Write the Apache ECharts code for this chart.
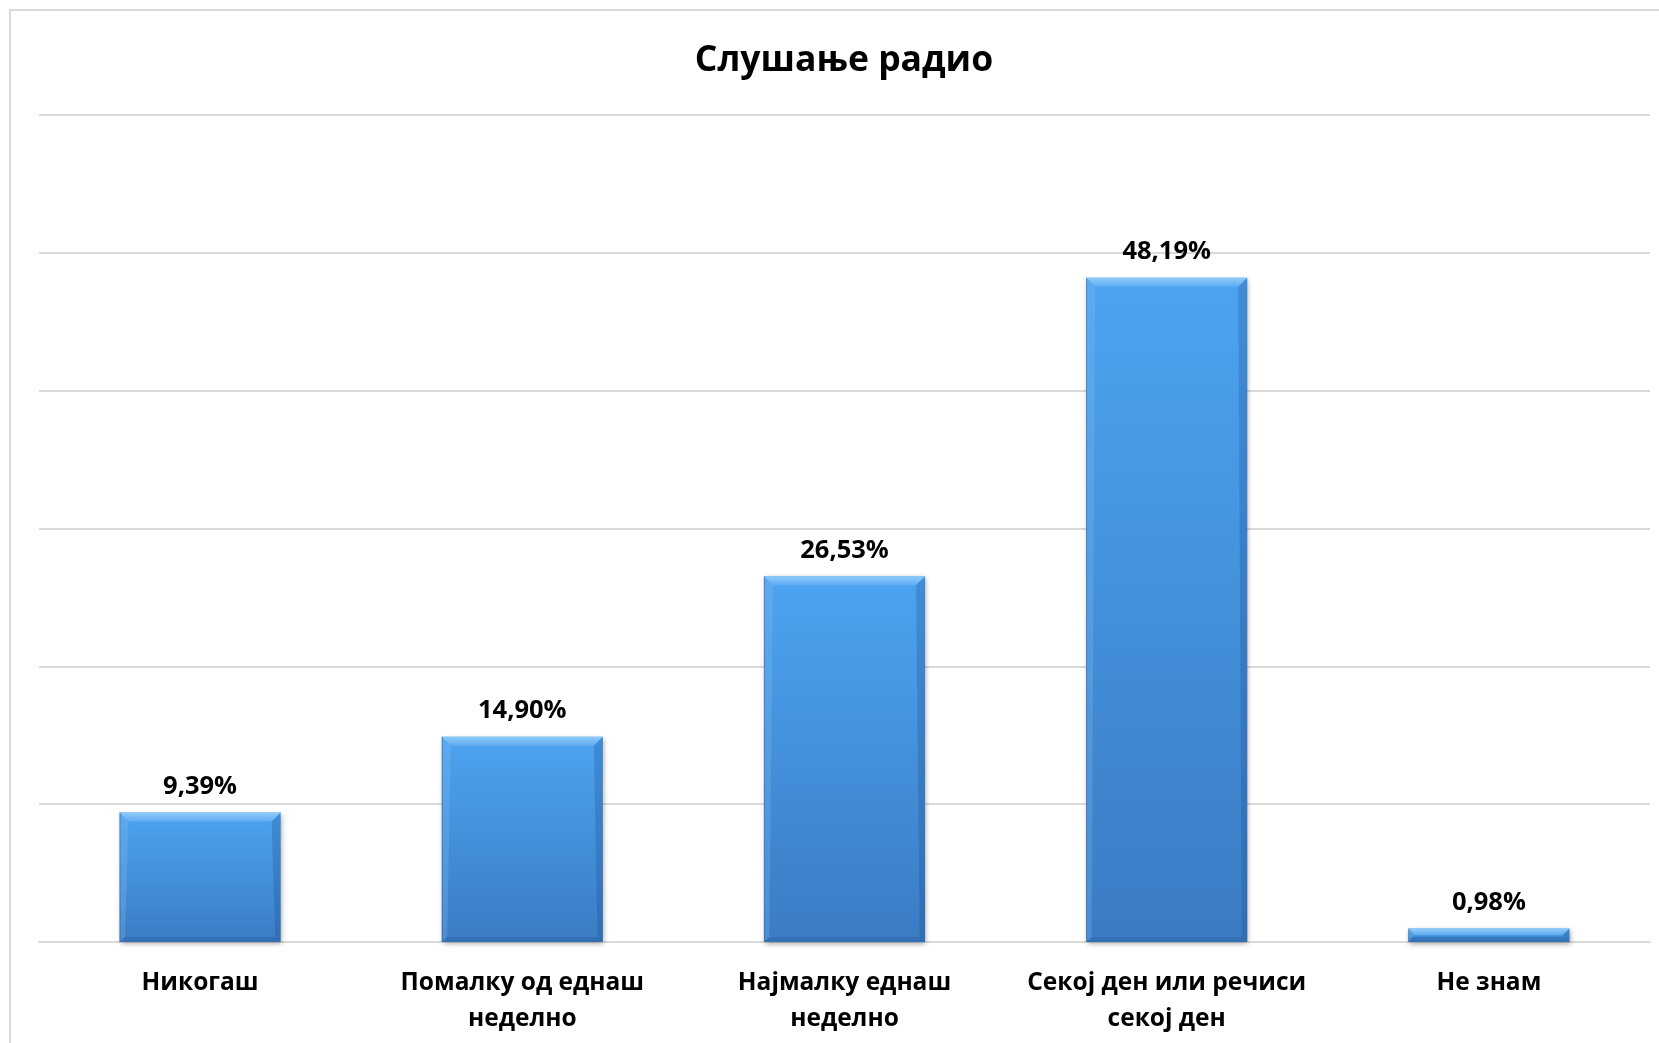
<!DOCTYPE html>
<html>
<head>
<meta charset="utf-8">
<script src="https://cdn.jsdelivr.net/npm/echarts@6/dist/echarts.min.js"></script>
<style>html,body{margin:0;padding:0;background:#fff}#c{width:1659px;height:1043px}</style>
</head>
<body>
<div id="c"></div>
<script>
const titleText = 'Слушање радио';
const categories = ['Никогаш', 'Помалку од еднаш\nнеделно', 'Најмалку еднаш\nнеделно', 'Секој ден или речиси\nсекој ден', 'Не знам'];
const values = [9.39, 14.90, 26.53, 48.19, 0.98];
const valueLabels = ['9,39%', '14,90%', '26,53%', '48,19%', '0,98%'];

const FONT = 'Open Sans';
const chart = echarts.init(document.getElementById('c'), null, {renderer: 'canvas'});

function bevelItem(params, api) {
  const idx = params.dataIndex;
  const v = api.value(1);
  const top = api.coord([idx, v]);
  const bot = api.coord([idx, 0]);
  const w = api.size([1, 0])[0] * 0.5;
  const x0 = top[0] - w / 2, x1 = top[0] + w / 2;
  const y0 = top[1], y1 = bot[1];
  const h = y1 - y0;
  const b = Math.min(9, h / 2, w / 2);
  const bs = Math.min(5, h / 2);
  return {
    type: 'group',
    children: [
      {type: 'polygon', shape: {points: [[x0, y0], [x1, y0], [x1 - b, y0 + b], [x0 + b, y0 + b]]},
        style: {fill: new echarts.graphic.LinearGradient(0, 0, 0, 1, [{offset: 0, color: '#8fcaf8'}, {offset: 1, color: '#5eacf2'}])}},
      {type: 'polygon', shape: {points: [[x0, y0], [x0 + b, y0 + b], [x0 + b * 0.6, y1 - bs], [x0, y1]]},
        style: {fill: 'rgba(140,195,245,0.25)'}},
      {type: 'polygon', shape: {points: [[x1, y0], [x1, y1], [x1 - b * 0.6, y1 - bs], [x1 - b, y0 + b]]},
        style: {fill: 'rgba(20,60,120,0.22)'}},
      {type: 'polygon', shape: {points: [[x0, y1], [x1, y1], [x1 - b * 0.6, y1 - bs], [x0 + b * 0.6, y1 - bs]]},
        style: {fill: 'rgba(20,60,120,0.18)'}},
      {type: 'line', shape: {x1: x0 + 0.5, y1: y0, x2: x0 + 0.5, y2: y1},
        style: {stroke: 'rgba(30,70,130,0.35)', lineWidth: 1}}
    ]
  };
}

chart.setOption({
  animation: false,
  backgroundColor: '#fff',
  title: {
    text: titleText, left: 839, top: 38, textAlign: 'center',
    textStyle: {fontFamily: FONT, fontWeight: 'bold', fontSize: 35.5, color: '#000'}
  },
  graphic: [{
    type: 'rect', silent: true, z: -10,
    shape: {x: 10, y: 10, width: 1660, height: 1040},
    style: {fill: 'none', stroke: '#d9d9d9', lineWidth: 2}
  }],
  grid: {left: 39, right: 9, top: 115, bottom: 101, containLabel: false},
  xAxis: {
    type: 'category', data: categories,
    axisTick: {show: false},
    axisLine: {lineStyle: {color: '#d9d9d9', width: 2}},
    axisLabel: {interval: 0, margin: 23, color: '#000', fontFamily: FONT, fontWeight: 'bold', fontSize: 24.5, lineHeight: 36}
  },
  yAxis: {
    type: 'value', min: 0, max: 60, interval: 10,
    axisLabel: {show: false}, axisLine: {show: false}, axisTick: {show: false},
    splitLine: {lineStyle: {color: '#d9d9d9', width: 2}}
  },
  series: [{
    type: 'bar', data: values, barWidth: '50%',
    itemStyle: {
      color: new echarts.graphic.LinearGradient(0, 0, 0, 1, [{offset: 0, color: '#4da3f0'}, {offset: 1, color: '#3a7cc4'}]),
      shadowColor: 'rgba(0,0,0,0.35)', shadowBlur: 5, shadowOffsetY: 2, shadowOffsetX: 1
    },
    label: {
      show: true, position: 'top', distance: 13,
      formatter: p => valueLabels[p.dataIndex],
      color: '#000', fontFamily: FONT, fontWeight: 'bold', fontSize: 25.5
    }
  }, {
    type: 'custom', data: values.map((v, i) => [i, v]), renderItem: bevelItem, z: 3, silent: true,
    encode: {x: 0, y: 1}
  }]
});
</script>
</body>
</html>
